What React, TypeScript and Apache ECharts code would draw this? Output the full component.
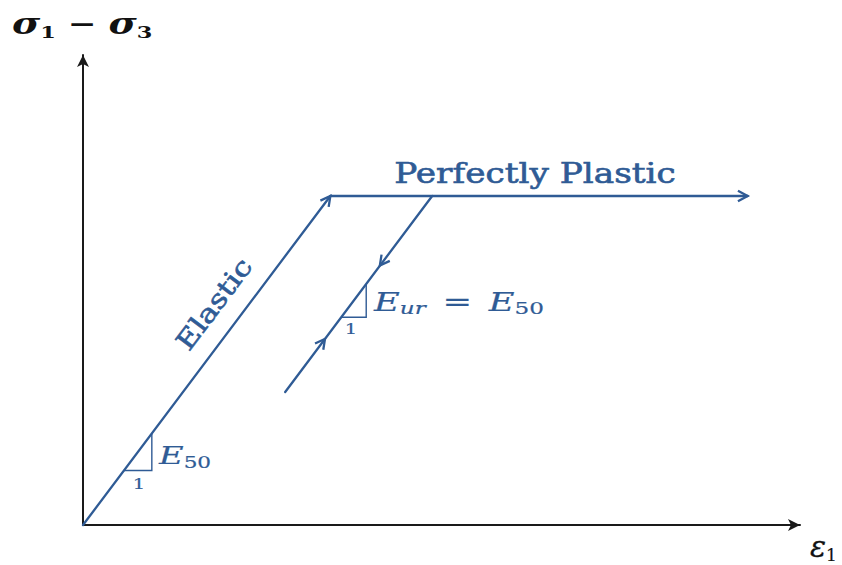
import { useEffect, useRef } from "react";
import * as echarts from "echarts";

// Hardening-soil style sketch: linear elastic loading, perfectly plastic plateau,
// and an unload/reload branch with the same stiffness.
const BLUE = "#2F5B95";
const AXIS = "#1a1a1a";

const strainRange = [0, 10];
const stressRange = [0, 10];

// Branches as [strain, stress] end points
const elasticBranch = [[0, 0], [3.45, 7.0]];
const plasticBranch = [[3.45, 7.0], [9.27, 7.0]];
const unloadBranch = [[4.87, 7.0], [2.82, 2.83]];

// Arrowheads: [strain, stress, direction strain, direction stress]
const arrowHeads = [
  [3.45, 7.0, 3.45, 7.0],
  [9.27, 7.0, 1, 0],
  [4.14, 5.52, -3.45, -7.0],
  [3.375, 3.96, 3.45, 7.0],
];

// Stiffness triangles: [corner strain, corner stress, run]
const slopeTriangles = [
  [0.57, 1.16, 0.39],
  [3.6, 4.42, 0.35],
];
const stiffness = elasticBranch[1][1] / elasticBranch[1][0];

const toSegments = (pts: number[][]) =>
  pts.slice(1).map((p, i) => [pts[i][0], pts[i][1], p[0], p[1]]);

const segments = [
  ...toSegments(elasticBranch),
  ...toSegments(plasticBranch),
  ...toSegments(unloadBranch),
];

const SERIF = "'DejaVu Serif', 'Liberation Serif', serif";
// Wide math-style lettering
const WIDE = 1.32;
// Slightly heavier blue lettering
const blueInk = { fill: BLUE, stroke: BLUE, lineWidth: 0.6 };
const blueInkLight = { fill: BLUE, stroke: BLUE, lineWidth: 0.2 };

export default function App() {
  const ref = useRef<HTMLDivElement>(null);

  useEffect(() => {
    if (!ref.current) return;
    const chart = echarts.init(ref.current, undefined, { renderer: "svg" });

    const axisCommon = {
      type: "value" as const,
      axisLine: {
        show: true,
        symbol: ["none", "arrow"],
        symbolSize: [9, 12],
        lineStyle: { color: AXIS, width: 2 },
      },
      axisTick: { show: false },
      axisLabel: { show: false },
      splitLine: { show: false },
    };

    chart.setOption({
      animation: false,
      backgroundColor: "#ffffff",
      grid: { left: 83, right: 42, top: 55, bottom: 40 },
      xAxis: { ...axisCommon, min: strainRange[0], max: strainRange[1] },
      yAxis: { ...axisCommon, min: stressRange[0], max: stressRange[1] },
      series: [
        {
          type: "custom",
          clip: false,
          encode: { x: [0, 2], y: [1, 3] },
          data: segments,
          renderItem: (_p: any, api: any) => {
            const a = api.coord([api.value(0), api.value(1)]);
            const b = api.coord([api.value(2), api.value(3)]);
            return {
              type: "line",
              shape: { x1: a[0], y1: a[1], x2: b[0], y2: b[1] },
              style: { stroke: BLUE, lineWidth: 2.3, lineCap: "round" },
            };
          },
        },
        {
          type: "custom",
          clip: false,
          encode: { x: 0, y: 1 },
          data: arrowHeads,
          renderItem: (_p: any, api: any) => {
            const x = api.value(0);
            const y = api.value(1);
            const p = api.coord([x, y]);
            const q = api.coord([x + api.value(2) * 0.01, y + api.value(3) * 0.01]);
            const ang = Math.atan2(q[1] - p[1], q[0] - p[0]);
            const len = 11;
            const spread = (28 * Math.PI) / 180;
            const arm = (s: number) => [
              p[0] - len * Math.cos(ang + s),
              p[1] - len * Math.sin(ang + s),
            ];
            return {
              type: "polyline",
              shape: { points: [arm(spread), p, arm(-spread)] },
              style: { stroke: BLUE, lineWidth: 2.3, fill: "none", lineJoin: "miter" },
            };
          },
        },
        {
          type: "custom",
          clip: false,
          encode: { x: 0, y: 1 },
          data: slopeTriangles,
          renderItem: (_p: any, api: any) => {
            const x = api.value(0);
            const y = api.value(1);
            const run = api.value(2);
            const c = api.coord([x, y]);
            const r = api.coord([x + run, y]);
            const t = api.coord([x + run, y + run * stiffness]);
            return {
              type: "polyline",
              shape: { points: [c, r, t] },
              style: { stroke: BLUE, lineWidth: 1.4, fill: "none" },
            };
          },
        },
      ],
      graphic: [
        {
          type: "text",
          x: 12,
          y: 24,
          scaleX: WIDE,
          style: {
            text: "{v|σ}{s|1}{m| − }{v|σ}{s|3}",
            verticalAlign: "middle",
            rich: {
              v: { fontFamily: SERIF, fontStyle: "italic", fontWeight: "bold", fontSize: 29, fill: "#111", lineHeight: 34 },
              s: { fontFamily: SERIF, fontWeight: "bold", fontSize: 17, fill: "#111", verticalAlign: "bottom", lineHeight: 17 },
              m: { fontFamily: SERIF, fontWeight: "bold", fontSize: 26, fill: "#111", lineHeight: 34 },
            },
          },
        },
        {
          type: "text",
          x: 810,
          y: 546,
          style: {
            text: "{v|ε}{s|1}",
            verticalAlign: "middle",
            rich: {
              v: { fontFamily: SERIF, fontStyle: "italic", fontSize: 30, fill: "#111", stroke: "#111", lineWidth: 0.3, lineHeight: 34 },
              s: { fontFamily: SERIF, fontSize: 17, fill: "#111", stroke: "#111", lineWidth: 0.2, verticalAlign: "bottom", lineHeight: 17 },
            },
          },
        },
        {
          type: "text",
          x: 535,
          y: 173,
          scaleX: 1.27,
          style: {
            text: "Perfectly Plastic",
            align: "center",
            verticalAlign: "middle",
            fontFamily: SERIF,
            fontSize: 27,
            ...blueInk,
          },
        },
        {
          type: "text",
          x: 214,
          y: 304,
          rotation: (53 * Math.PI) / 180,
          scaleX: 1.2,
          style: {
            text: "Elastic",
            align: "center",
            verticalAlign: "middle",
            fontFamily: SERIF,
            fontSize: 26,
            ...blueInk,
          },
        },
        {
          type: "text",
          x: 159,
          y: 455,
          scaleX: 1.35,
          style: {
            text: "{e|E}{n|50}",
            verticalAlign: "middle",
            rich: {
              e: { fontFamily: SERIF, fontStyle: "italic", fontSize: 25, ...blueInkLight, lineHeight: 30 },
              n: { fontFamily: SERIF, fontSize: 16, ...blueInkLight, verticalAlign: "bottom", lineHeight: 16 },
            },
          },
        },
        {
          type: "text",
          x: 139,
          y: 484,
          scaleX: 1.3,
          style: { text: "1", align: "center", verticalAlign: "middle", fontFamily: SERIF, fontSize: 15, ...blueInkLight },
        },
        {
          type: "text",
          x: 374,
          y: 302,
          scaleX: 1.36,
          style: {
            text: "{e|E}{u|ur}{q| = }{e|E}{n|50}",
            verticalAlign: "middle",
            rich: {
              e: { fontFamily: SERIF, fontStyle: "italic", fontSize: 26, ...blueInkLight, lineHeight: 30 },
              u: { fontFamily: SERIF, fontStyle: "italic", fontSize: 17, ...blueInkLight, verticalAlign: "bottom", lineHeight: 16 },
              q: { fontFamily: SERIF, fontSize: 26, ...blueInkLight, lineHeight: 30, padding: [0, 4, 0, 4] },
              n: { fontFamily: SERIF, fontSize: 17, ...blueInkLight, verticalAlign: "bottom", lineHeight: 16 },
            },
          },
        },
        {
          type: "text",
          x: 351,
          y: 329,
          scaleX: 1.3,
          style: { text: "1", align: "center", verticalAlign: "middle", fontFamily: SERIF, fontSize: 15, ...blueInkLight },
        },
      ],
    });

    return () => chart.dispose();
  }, []);

  return (
    <div
      ref={ref}
      style={{ position: "fixed", left: 0, top: 0, width: 842, height: 565, background: "#fff" }}
    />
  );
}
